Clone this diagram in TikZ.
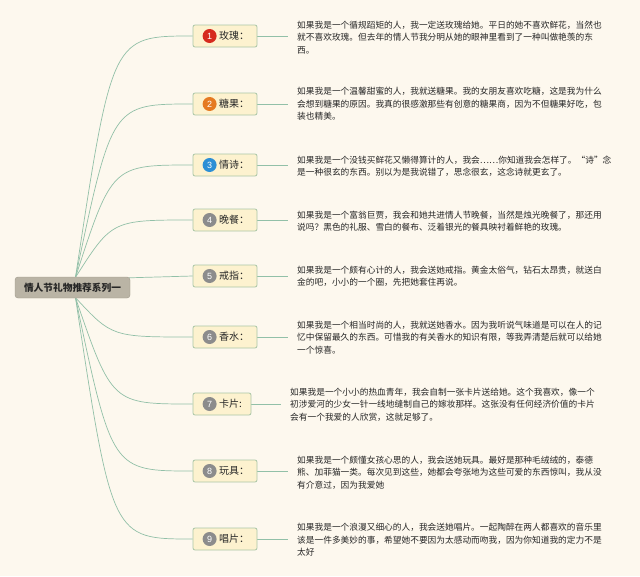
\documentclass[tikz,border=0pt]{standalone}
\usepackage{fontspec}
\setmainfont{Liberation Sans}
\newfontfamily\cjk{Noto Sans CJK SC}
\usetikzlibrary{calc,backgrounds}
\definecolor{bg}{HTML}{FDF8EE}
\definecolor{rootfill}{HTML}{BAB4A5}
\definecolor{childfill}{HTML}{FDF2CF}
\definecolor{childdraw}{HTML}{A9C6A6}
\definecolor{linkc}{HTML}{92C0A8}
\definecolor{txt}{HTML}{262626}
\definecolor{bred}{HTML}{D62A1E}
\definecolor{borange}{HTML}{E57A22}
\definecolor{bblue}{HTML}{2D8FD5}
\definecolor{bgray}{HTML}{8C8C8C}
\begin{document}
\begin{tikzpicture}[x=1pt,y=-1pt,
 rootbox/.style={draw=rootfill!85!black, fill=rootfill, rounded corners=3pt, minimum width=115pt, minimum height=21pt, inner sep=0pt, font=\cjk\fontsize{9.7}{11}\selectfont\bfseries, text=txt},
 childbox/.style={draw=childdraw, fill=childfill, rounded corners=2pt, minimum width=64pt, minimum height=22pt, inner sep=0pt, line width=0.8pt},
 badge/.style={circle, inner sep=0pt, minimum size=14pt, text=white, font=\fontsize{9}{10}\selectfont},
 lbl/.style={anchor=west, inner sep=0pt, font=\cjk\fontsize{10}{12}\selectfont, text=txt},
 desc/.style={anchor=west, align=left, inner sep=0pt, font=\cjk\fontsize{8.7}{12.5}\selectfont, text=txt},
 link/.style={draw=linkc, line width=0.7pt}
]
\useasboundingbox (0,0) rectangle (640,576);
\begin{scope}[on background layer]
\fill[bg] (0,0) rectangle (640,576);
\end{scope}

\node[rootbox] (root) at (72.5,287.5) {情人节礼物推荐系列一};

% child boxes
\node[childbox] (c1) at (225,36) {};
\node[childbox] (c2) at (225,104) {};
\node[childbox] (c3) at (225,165) {};
\node[childbox] (c4) at (225,220) {};
\node[childbox] (c5) at (225,276) {};
\node[childbox] (c6) at (225,337) {};
\node[childbox, minimum width=58pt] (c7) at (222,404) {};
\node[childbox] (c8) at (225,471) {};
\node[childbox] (c9) at (225,539) {};

% badges
\node[badge, fill=bred]    (b1) at ($(c1.west)+(17,0)$) {1};
\node[badge, fill=borange] (b2) at ($(c2.west)+(17,0)$) {2};
\node[badge, fill=bblue]   (b3) at ($(c3.west)+(17,0)$) {3};
\node[badge, fill=bgray]   (b4) at ($(c4.west)+(17,0)$) {4};
\node[badge, fill=bgray]   (b5) at ($(c5.west)+(17,0)$) {5};
\node[badge, fill=bgray]   (b6) at ($(c6.west)+(17,0)$) {6};
\node[badge, fill=bgray]   (b7) at ($(c7.west)+(17,0)$) {7};
\node[badge, fill=bgray]   (b8) at ($(c8.west)+(17,0)$) {8};
\node[badge, fill=bgray]   (b9) at ($(c9.west)+(17,0)$) {9};

% labels
\node[lbl] (l1) at ($(b1.east)+(2,0)$) {玫瑰：};
\node[lbl] (l2) at ($(b2.east)+(2,0)$) {糖果：};
\node[lbl] (l3) at ($(b3.east)+(2,0)$) {情诗：};
\node[lbl] (l4) at ($(b4.east)+(2,0)$) {晚餐：};
\node[lbl] (l5) at ($(b5.east)+(2,0)$) {戒指：};
\node[lbl] (l6) at ($(b6.east)+(2,0)$) {香水：};
\node[lbl] (l7) at ($(b7.east)+(2,0)$) {卡片:};
\node[lbl] (l8) at ($(b8.east)+(2,0)$) {玩具：};
\node[lbl] (l9) at ($(b9.east)+(2,0)$) {唱片：};

% descriptions
\node[desc] (d1) at (297,37.5) {如果我是一个循规蹈矩的人，我一定送玫瑰给她。平日的她不喜欢鲜花，当然也\\就不喜欢玫瑰。但去年的情人节我分明从她的眼神里看到了一种叫做艳羡的东\\西。};
\node[desc] (d2) at (297,104) {如果我是一个温馨甜蜜的人，我就送糖果。我的女朋友喜欢吃糖，这是我为什么\\会想到糖果的原因。我真的很感激那些有创意的糖果商，因为不但糖果好吃，包\\装也精美。};
\node[desc] (d3) at (297,166) {如果我是一个没钱买鲜花又懒得算计的人，我会……你知道我会怎样了。“诗”念\\是一种很玄的东西。别以为是我说错了，思念很玄，这念诗就更玄了。};
\node[desc] (d4) at (297,221) {如果我是一个富翁巨贾，我会和她共进情人节晚餐，当然是烛光晚餐了，那还用\\说吗？黑色的礼服、雪白的餐布、泛着银光的餐具映衬着鲜艳的玫瑰。};
\node[desc] (d5) at (297,276.5) {如果我是一个颇有心计的人，我会送她戒指。黄金太俗气，钻石太昂贵，就送白\\金的吧，小小的一个圈，先把她套住再说。};
\node[desc] (d6) at (297,337.5) {如果我是一个相当时尚的人，我就送她香水。因为我听说气味道是可以在人的记\\忆中保留最久的东西。可惜我的有关香水的知识有限，等我弄清楚后就可以给她\\一个惊喜。};
\node[desc] (d7) at (290,404.5) {如果我是一个小小的热血青年，我会自制一张卡片送给她。这个我喜欢，像一个\\初涉爱河的少女一针一线地缝制自己的嫁妆那样。这张没有任何经济价值的卡片\\会有一个我爱的人欣赏，这就足够了。};
\node[desc] (d8) at (297,472.5) {如果我是一个颇懂女孩心思的人，我会送她玩具。最好是那种毛绒绒的，泰德\\熊、加菲猫一类。每次见到这些，她都会夸张地为这些可爱的东西惊叫，我从没\\有介意过，因为我爱她};
\node[desc] (d9) at (297,540) {如果我是一个浪漫又细心的人，我会送她唱片。一起陶醉在两人都喜欢的音乐里\\该是一件多美妙的事，希望她不要因为太感动而吻我，因为你知道我的定力不是\\太好};

\coordinate (rt) at ($(root.north)+(3,0.5)$);
\coordinate (rb) at ($(root.south)+(3,-0.5)$);

\begin{scope}[on background layer]
\draw[link] (rt) .. controls (112,36) .. (c1.west);
\draw[link] (rt) .. controls (112,104) .. (c2.west);
\draw[link] (rt) .. controls (112,165) .. (c3.west);
\draw[link] (rt) .. controls (112,220) .. (c4.west);
\draw[link] ($(root.north east)+(-1,1)$) -- (c5.west);
\draw[link] (rb) .. controls (112,337) .. (c6.west);
\draw[link] (rb) .. controls (112,404) .. (c7.west);
\draw[link] (rb) .. controls (112,471) .. (c8.west);
\draw[link] (rb) .. controls (112,539) .. (c9.west);
\foreach \i in {1,...,9}{
  \draw[link, shorten >=9pt] (c\i.east) -- (c\i.east -| d\i.west);
}
\end{scope}
\end{tikzpicture}
\end{document}
